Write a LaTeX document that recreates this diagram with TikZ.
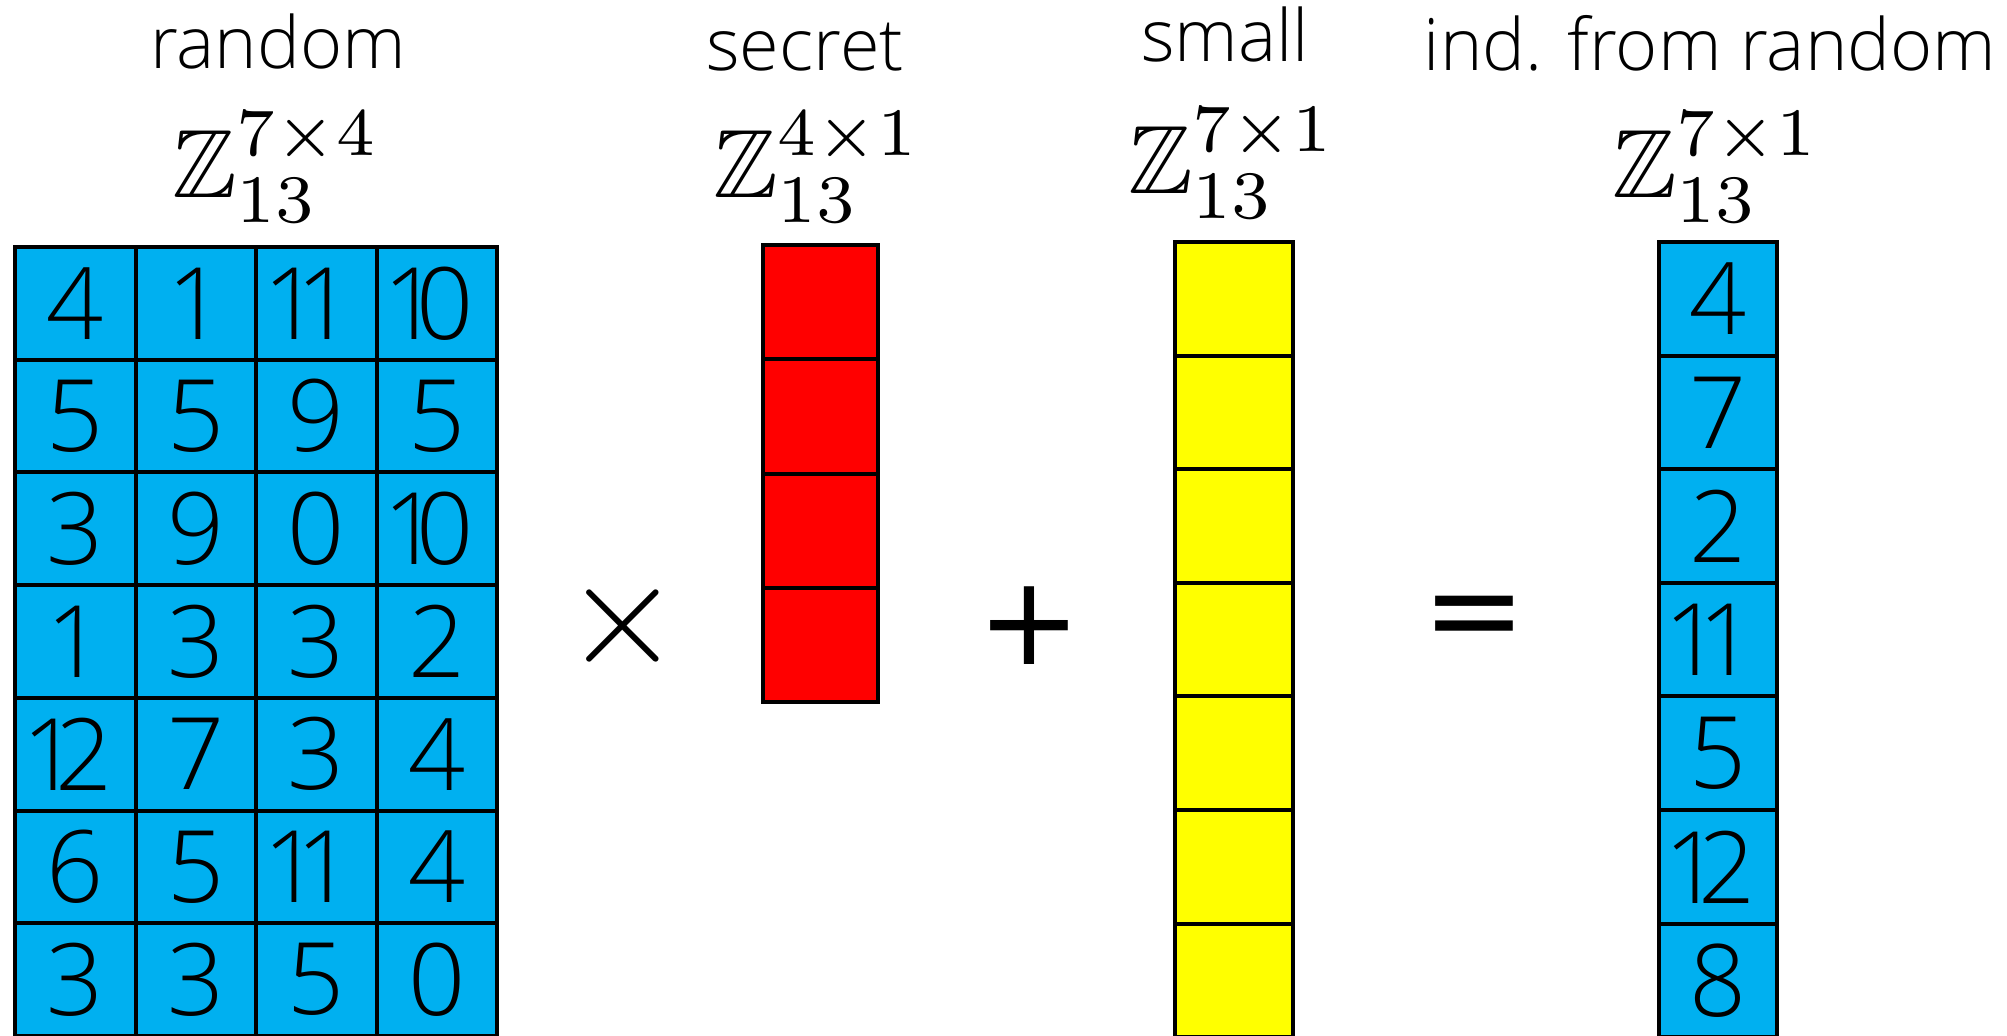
\documentclass[tikz,border=0pt]{standalone}
\usepackage{amssymb}
\usepackage{graphicx}
\usepackage{fontspec}
\newfontfamily\lightfont{Open Sans Light}
\newfontfamily\opfont{DejaVu Sans}
\definecolor{cellblue}{HTML}{00B0F0}
\definecolor{cellred}{HTML}{FF0000}
\definecolor{cellyellow}{HTML}{FFFF00}
\newcommand\twod[2]{#1\kern-0.24em#2\kern0.16em}
\newcommand\setZ[2]{\scalebox{4.85}{$\mathbb{Z}_{13}^{#1\times #2}$}}
\tikzset{
  cellbase/.style={draw=black,line width=2pt,inner sep=0pt,anchor=north west},
  bluecell/.style={cellbase,fill=cellblue,font=\lightfont\fontsize{50}{50}\selectfont},
  redcell/.style={cellbase,fill=cellred,minimum width=57.5pt,minimum height=57.125pt},
  yellowcell/.style={cellbase,fill=cellyellow,minimum width=59pt,minimum height=56.8pt},
  labeltext/.style={anchor=base,inner sep=0pt,font=\lightfont\fontsize{36}{36}\selectfont},
  setlabel/.style={anchor=base,inner sep=0pt},
  optext/.style={inner sep=0pt,font=\opfont\fontsize{62}{62}\selectfont}
}
\begin{document}
\begin{tikzpicture}[x=0.5pt,y=-0.5pt]
\fill[white] (0,0) rectangle (2007,1035);
\useasboundingbox (0,0) rectangle (2007,1035);

% labels
\node[labeltext] (lblA) at (278,68) {random};
\node[labeltext] (lblS) at (805,70) {secret};
\node[labeltext] (lblE) at (1225,61) {small};
\node[labeltext] (lblB) at (1710,70) {ind. from random};

\node[setlabel] (setA) at (276,197) {\setZ74};
\node[setlabel] (setS) at (817,197) {\setZ41};
\node[setlabel] (setE) at (1232,193) {\setZ71};
\node[setlabel] (setB) at (1716,197) {\setZ71};

% random matrix A
\foreach \row [count=\i from 0] in {{4,1,\twod11,\twod10},{5,5,9,5},{3,9,0,\twod10},{1,3,3,2},{\twod12,7,3,4},{6,5,\twod11,4},{3,3,5,0}} {
  \foreach \v [count=\j from 0] in \row {
    \node[bluecell,minimum width=60.25pt,minimum height=56.35pt] (A-\i-\j) at ({13+120.5*\j},{245+112.7*\i}) {\v};
  }
}

% secret s
\foreach \i in {0,...,3} {
  \node[redcell] (S-\i) at (761,{243+114.25*\i}) {};
}

% small e
\foreach \i in {0,...,6} {
  \node[yellowcell] (E-\i) at (1173,{240+113.6*\i}) {};
}

% result b
\foreach \v [count=\i from 0] in {4,7,2,\twod11,5,\twod12,8} {
  \node[bluecell,minimum width=59pt,minimum height=56.8pt] (B-\i) at (1657,{240+113.6*\i}) {\v};
}

% operators
\node[inner sep=0pt] (times) at (623,626) {\scalebox{7.5}{$\times$}};
\node[optext] (plus) at (1029,626) {+};
\node[optext] (equals) at (1474,624) {=};
\end{tikzpicture}
\end{document}
